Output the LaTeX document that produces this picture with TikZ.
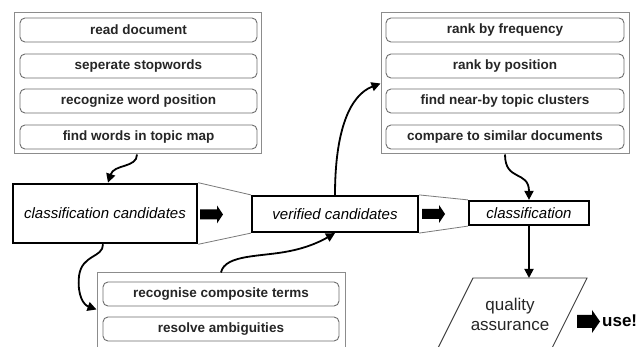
\documentclass[tikz,border=0pt]{standalone}
\usepackage{fontspec}
\setmainfont{Liberation Sans}
\usetikzlibrary{arrows.meta,calc}
\definecolor{framegray}{HTML}{8C8C8C}
\definecolor{itemgray}{HTML}{6E6E6E}
\definecolor{linkgray}{HTML}{7A7A7A}
\tikzset{
  group/.style={draw=framegray, line width=1pt, fill=white, inner sep=0pt,
    minimum width=#1, minimum height=141pt},
  item/.style={draw=itemgray, line width=0.9pt, rounded corners=5pt, inner sep=0pt,
    minimum width=#1, minimum height=24pt,
    font=\fontsize{13.5}{16}\selectfont\bfseries, text=black!85},
  stage/.style={draw=black, fill=white, inner sep=0pt,
    font=\fontsize{15}{18}\selectfont\itshape},
  link/.style={draw=linkgray, line width=0.8pt},
  flow/.style={line width=1.8pt, -{Triangle[length=9pt,width=9pt]}},
  blockarrow/.pic={
    \fill[black] (0,-5) -- (17,-5) -- (17,-9) -- (23,0) -- (17,9) -- (17,5) -- (0,5) -- cycle;
  },
  bigblockarrow/.pic={
    \fill[black] (0,-6.5) -- (15,-6.5) -- (15,-11.5) -- (23,0) -- (15,11.5) -- (15,6.5) -- (0,6.5) -- cycle;
  }
}
\begin{document}
\begin{tikzpicture}[x=1pt,y=-1pt]
\useasboundingbox (0,0) rectangle (638,347);
\clip (0,0) rectangle (638,347);
\fill[white] (0,0) rectangle (638,347);

% preprocessing steps
\node[group=247pt] (grpA) at (137.5,83.5) {};
\node[item=237pt] (a1) at (138.5,30) {read document};
\node[item=237pt] (a2) at (138.5,66) {seperate stopwords};
\node[item=237pt] (a3) at (138.5,101) {recognize word position};
\node[item=237pt] (a4) at (138.5,137) {find words in topic map};

% ranking steps
\node[group=248pt] (grpB) at (505,83.5) {};
\node[item=238pt] (b1) at (505,30) {rank by frequency};
\node[item=238pt] (b2) at (505,66) {rank by position};
\node[item=238pt] (b3) at (505,101) {find near-by topic clusters};
\node[item=238pt] (b4) at (505,137) {compare to similar documents};

% verification steps
\node[draw=framegray, line width=1pt, fill=white, inner sep=0pt,
      minimum width=248pt, minimum height=92pt] (grpC) at (221,319) {};
\node[item=236pt] (c1) at (221,294) {recognise composite terms};
\node[item=236pt] (c2) at (221,329) {resolve ambiguities};

% main stages
\node[stage, line width=2.6pt, minimum width=184pt, minimum height=59pt] (cand) at (105,213.5) {classification candidates};
\node[stage, line width=2.2pt, minimum width=166pt, minimum height=36pt] (ver) at (335,214) {verified candidates};
\node[stage, line width=2.2pt, minimum width=120pt, minimum height=24pt] (cls) at (529,213) {classification};

% funnel lines between stages
\draw[link] (cand.north east) -- (ver.north west);
\draw[link] (cand.south east) -- (ver.south west);
\draw[link] (ver.north east) -- (cls.north west);
\draw[link] (ver.south east) -- (cls.south west);

% block arrows
\pic (ba1) at (200,214.5) {blockarrow};
\pic (ba2) at (422,214) {blockarrow};

% quality assurance
\draw[draw=black!75, line width=0.9pt] (473,278) -- (587,278) -- (546,360) -- (432,360) -- cycle;
\node[font=\fontsize{17}{20}\selectfont, align=center, text=black!85] (qa) at (510,314) {quality\\assurance};
\coordinate (qatop) at (529,278);
\pic (ba3) at (577,321.5) {bigblockarrow};
\node[anchor=west, inner sep=0pt, font=\fontsize{17}{20}\selectfont\bfseries] (use) at (602,321) {use!};

% curved flow arrows
\draw[flow] ([xshift=-0.5pt]grpA.south) .. controls (137,168) and (114,164) .. ([xshift=3pt]cand.north);
\draw[flow] ([xshift=-2pt]cand.south) .. controls (103,258) and (82,254) .. (79,276)
            .. controls (77,296) and (84,305) .. ([yshift=-37pt]grpC.north west);
\draw[flow] (grpC.north) .. controls (225,254) and (262,257) .. (290,251)
            .. controls (310,247) and (323,240) .. (ver.south);
\draw[flow] (ver.north) .. controls (335,130) and (350,95) .. (grpB.west);
\draw[flow] (grpB.south) .. controls (505,182) and (529,170) .. (cls.north);
\draw[flow] (cls.south) -- (qatop);
\end{tikzpicture}
\end{document}
